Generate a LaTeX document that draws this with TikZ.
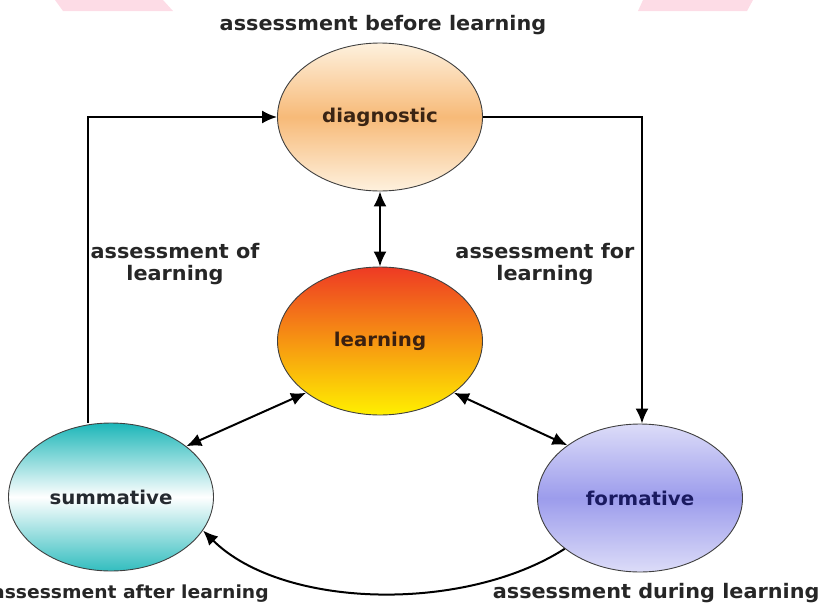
\documentclass[tikz,border=0pt]{standalone}
\usepackage{fontspec}
\setmainfont{DejaVu Sans}[FakeStretch=1.04]
\usepackage{tikz}
\usetikzlibrary{shapes.geometric,arrows.meta}
\usetikzlibrary{positioning}

\definecolor{pinkband}{HTML}{FDDCE6}
\definecolor{diagtop}{HTML}{FEF1DE}
\definecolor{diagmid}{HTML}{F7BA78}
\definecolor{learntop}{HTML}{EE3A24}
\definecolor{learnbot}{HTML}{FFF000}
\definecolor{summtop}{HTML}{1CB6B8}
\definecolor{formtop}{HTML}{DCDCF8}
\definecolor{formmid}{HTML}{9C9CEC}

\tikzset{
  stage/.style={ellipse,draw=black!75,line width=0.9pt,minimum width=205pt,
    minimum height=148pt,inner sep=0pt,font=\fontsize{19}{22}\selectfont\bfseries},
  lbl/.style={font=\fontsize{20}{22}\selectfont\bfseries,text=black!85,align=center},
  arr/.style={line width=2pt,-{Latex[length=15pt,width=13pt]}},
  darr/.style={line width=2pt,{Latex[length=15pt,width=13pt]}-{Latex[length=15pt,width=13pt]}}
}

\begin{document}
\begin{tikzpicture}[x=1pt,y=-1pt]
  \useasboundingbox (0,0) rectangle (823,603);

  % bits of the page behind
  \fill[pinkband] (55,0) -- (163,0) -- (173,11) -- (63,11) -- cycle;
  \fill[pinkband] (643,0) -- (753,0) -- (747,11) -- (638,11) -- cycle;

  % stages
  \node[stage,top color=diagtop,bottom color=diagtop,middle color=diagmid,
    text={rgb,255:red,58;green,36;blue,20}] (diag) at (380,117) {diagnostic};
  \node[stage,top color=learntop,bottom color=learnbot,
    text={rgb,255:red,58;green,32;blue,16}] (learn) at (380,341) {learning};
  \node[stage,top color=summtop,bottom color=summtop!90!white,middle color=white,
    text={rgb,255:red,37;green,42;blue,48}] (summ) at (111,497) {summative};
  \node[stage,top color=formtop,bottom color=formtop,middle color=formmid,
    text={rgb,255:red,26;green,26;blue,96}] (form) at (640,498) {formative};

  % labels
  \node[lbl] (tbefore) at (383,25) {assessment before learning};
  \node[lbl] (tof) at (175,264) {assessment of\\learning};
  \node[lbl] (tfor) at (545,264) {assessment for\\learning};
  \node[lbl,font=\fontsize{18}{22}\selectfont\bfseries,anchor=base west,inner sep=0pt]
    (tafter) at (-8,598) {assessment after learning};
  \node[lbl,anchor=base east] (tduring) at (823,598) {assessment during learning};

  % loop
  \coordinate (lft) at (88,117);
  \coordinate (rgt) at (642,117);
  \draw[arr] (summ.north -| lft) -- (lft) -- (diag.west);
  \draw[arr] (diag.east) -- (rgt) -- (form.north -| rgt);
  \draw[arr] (form.214) .. controls +(-100,64) and +(80,79) .. (summ.340);

  % to and from learning
  \draw[darr] (diag.south) -- (learn.north);
  \draw[darr] (summ.34) -- (learn.215);
  \draw[darr] (learn.325) -- (form.144);
\end{tikzpicture}
\end{document}
